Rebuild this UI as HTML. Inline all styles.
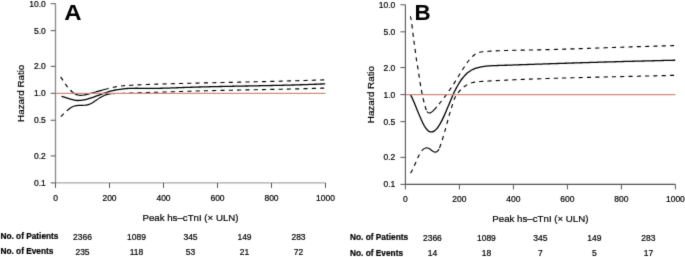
<!DOCTYPE html>
<html><head><meta charset="utf-8"><style>
html,body{margin:0;padding:0;background:#fff;}
svg{display:block;}
text{font-family:"Liberation Sans", sans-serif;fill:#000;stroke:#000;stroke-width:0.2px;}
</style></head><body>
<svg width="685" height="257" viewBox="0 0 685 257">
<defs><filter id="soft" x="0" y="0" width="685" height="257" filterUnits="userSpaceOnUse" color-interpolation-filters="sRGB"><feConvolveMatrix order="3" kernelMatrix="0.0113 0.0838 0.0113 0.0838 0.6193 0.0838 0.0113 0.0838 0.0113" edgeMode="duplicate" preserveAlpha="true"/></filter></defs>
<g filter="url(#soft)">
<rect width="685" height="257" fill="#fff"/>
<line x1="55.5" y1="3.70" x2="55.5" y2="182.90" stroke="#8a8a8a" stroke-width="1.3"/>
<line x1="55.5" y1="182.90" x2="325.5" y2="182.90" stroke="#a8a8a8" stroke-width="1.1"/>
<line x1="50.70" y1="3.70" x2="55.5" y2="3.70" stroke="#555" stroke-width="1"/>
<text x="45.8" y="6.75" text-anchor="end" font-size="8.5">10.0</text>
<line x1="50.70" y1="30.67" x2="55.5" y2="30.67" stroke="#555" stroke-width="1"/>
<text x="45.8" y="33.72" text-anchor="end" font-size="8.5">5.0</text>
<line x1="50.70" y1="66.33" x2="55.5" y2="66.33" stroke="#555" stroke-width="1"/>
<text x="45.8" y="69.38" text-anchor="end" font-size="8.5">2.0</text>
<line x1="50.70" y1="93.30" x2="55.5" y2="93.30" stroke="#555" stroke-width="1"/>
<text x="45.8" y="96.35" text-anchor="end" font-size="8.5">1.0</text>
<line x1="50.70" y1="120.27" x2="55.5" y2="120.27" stroke="#555" stroke-width="1"/>
<text x="45.8" y="123.32" text-anchor="end" font-size="8.5">0.5</text>
<line x1="50.70" y1="155.93" x2="55.5" y2="155.93" stroke="#555" stroke-width="1"/>
<text x="45.8" y="158.98" text-anchor="end" font-size="8.5">0.2</text>
<line x1="50.70" y1="182.90" x2="55.5" y2="182.90" stroke="#555" stroke-width="1"/>
<text x="45.8" y="185.95" text-anchor="end" font-size="8.5">0.1</text>
<line x1="55.50" y1="182.90" x2="55.50" y2="187.90" stroke="#555" stroke-width="1"/>
<text x="55.50" y="200.7" text-anchor="middle" font-size="8.5">0</text>
<line x1="109.50" y1="182.90" x2="109.50" y2="187.90" stroke="#555" stroke-width="1"/>
<text x="109.50" y="200.7" text-anchor="middle" font-size="8.5">200</text>
<line x1="163.50" y1="182.90" x2="163.50" y2="187.90" stroke="#555" stroke-width="1"/>
<text x="163.50" y="200.7" text-anchor="middle" font-size="8.5">400</text>
<line x1="217.50" y1="182.90" x2="217.50" y2="187.90" stroke="#555" stroke-width="1"/>
<text x="217.50" y="200.7" text-anchor="middle" font-size="8.5">600</text>
<line x1="271.50" y1="182.90" x2="271.50" y2="187.90" stroke="#555" stroke-width="1"/>
<text x="271.50" y="200.7" text-anchor="middle" font-size="8.5">800</text>
<line x1="325.50" y1="182.90" x2="325.50" y2="187.90" stroke="#555" stroke-width="1"/>
<text x="325.50" y="200.7" text-anchor="middle" font-size="8.5">1000</text>
<text x="190.50" y="221.0" text-anchor="middle" font-size="9.7">Peak hs–cTnI (× ULN)</text>
<text transform="translate(23.7,93.30) rotate(-90)" text-anchor="middle" font-size="9.8">Hazard Ratio</text>
<text transform="translate(64.25,20.3) scale(1.05,1)" font-size="22.8" font-weight="bold" style="stroke:none">A</text>
<path d="M61.50,96.47 C62.17,96.61 62.83,96.77 63.50,96.95 C64.16,97.13 64.83,97.32 65.50,97.53 C66.16,97.74 66.83,97.96 67.50,98.18 C68.16,98.40 68.83,98.62 69.49,98.83 C70.16,99.04 70.83,99.25 71.49,99.44 C72.16,99.63 72.82,99.80 73.49,99.95 C74.16,100.10 74.82,100.22 75.49,100.31 C76.16,100.40 76.82,100.46 77.49,100.48 C78.15,100.51 78.82,100.50 79.49,100.47 C80.15,100.44 80.82,100.38 81.48,100.29 C82.15,100.21 82.82,100.11 83.48,99.98 C84.15,99.86 84.82,99.71 85.48,99.55 C86.15,99.39 86.81,99.22 87.48,99.04 C88.15,98.85 88.81,98.66 89.48,98.45 C90.14,98.25 90.81,98.04 91.48,97.82 C92.14,97.60 92.81,97.37 93.48,97.14 C94.14,96.90 94.81,96.67 95.47,96.42 C96.14,96.18 96.81,95.94 97.47,95.69 C98.14,95.45 98.81,95.20 99.47,94.95 C100.14,94.70 100.80,94.46 101.47,94.21 C102.14,93.97 102.80,93.72 103.47,93.48 C104.13,93.25 104.80,93.01 105.47,92.78 C106.13,92.55 106.80,92.33 107.47,92.11 C108.13,91.90 108.80,91.69 109.46,91.49 C110.13,91.29 110.80,91.10 111.46,90.92 C112.13,90.75 112.79,90.58 113.46,90.42 C114.13,90.27 114.79,90.12 115.46,89.99 C116.13,89.86 116.79,89.73 117.46,89.62 C118.12,89.50 118.79,89.39 119.46,89.30 C120.12,89.20 120.79,89.11 121.45,89.03 C122.12,88.95 122.79,88.88 123.45,88.81 C124.12,88.75 124.79,88.69 125.45,88.64 C126.12,88.59 126.78,88.54 127.45,88.50 C128.12,88.47 128.78,88.43 129.45,88.40 C130.11,88.38 130.78,88.35 131.45,88.33 C132.11,88.32 132.78,88.30 133.45,88.29 C134.11,88.28 134.78,88.28 135.44,88.27 C136.11,88.27 136.78,88.27 137.44,88.27 C138.11,88.27 138.77,88.28 139.44,88.28 C140.11,88.29 140.77,88.29 141.44,88.30 C142.11,88.31 142.77,88.32 143.44,88.33 C144.10,88.34 144.77,88.35 145.44,88.36 C146.10,88.37 146.77,88.38 147.43,88.38 C148.10,88.39 148.77,88.40 149.43,88.40 C150.10,88.40 150.77,88.41 151.43,88.41 C152.10,88.41 152.76,88.40 153.43,88.40 C154.10,88.40 154.76,88.39 155.43,88.38 C156.09,88.38 156.76,88.37 157.43,88.36 C158.09,88.34 158.76,88.33 159.43,88.32 C160.09,88.31 160.76,88.29 161.42,88.27 C162.09,88.26 162.76,88.24 163.42,88.22 C164.09,88.20 164.76,88.18 165.42,88.16 C166.09,88.14 166.75,88.12 167.42,88.10 C168.09,88.08 168.75,88.06 169.42,88.03 C170.08,88.01 170.75,87.98 171.42,87.96 C172.08,87.94 172.75,87.91 173.42,87.89 C174.08,87.86 174.75,87.84 175.41,87.81 C176.08,87.79 176.75,87.76 177.41,87.73 C178.08,87.71 178.74,87.68 179.41,87.66 C180.08,87.63 180.74,87.61 181.41,87.58 C182.08,87.56 182.74,87.54 183.41,87.51 C184.07,87.49 184.74,87.47 185.41,87.44 C186.07,87.42 186.74,87.40 187.40,87.37 C188.07,87.35 188.74,87.33 189.40,87.31 C190.07,87.29 190.74,87.27 191.40,87.25 C192.07,87.22 192.73,87.20 193.40,87.18 C194.07,87.16 194.73,87.14 195.40,87.12 C196.06,87.10 196.73,87.08 197.40,87.07 C198.06,87.05 198.73,87.03 199.40,87.01 C200.06,86.99 200.73,86.97 201.39,86.95 C202.06,86.94 202.73,86.92 203.39,86.90 C204.06,86.88 204.72,86.87 205.39,86.85 C206.06,86.83 206.72,86.82 207.39,86.80 C208.06,86.78 208.72,86.77 209.39,86.75 C210.05,86.73 210.72,86.72 211.39,86.70 C212.05,86.69 212.72,86.67 213.38,86.66 C214.05,86.64 214.72,86.62 215.38,86.61 C216.05,86.59 216.72,86.58 217.38,86.57 C218.05,86.55 218.71,86.54 219.38,86.52 C220.05,86.51 220.71,86.49 221.38,86.48 C222.04,86.47 222.71,86.45 223.38,86.44 C224.04,86.42 224.71,86.41 225.38,86.40 C226.04,86.38 226.71,86.37 227.37,86.36 C228.04,86.34 228.71,86.33 229.37,86.32 C230.04,86.30 230.71,86.29 231.37,86.28 C232.04,86.27 232.70,86.25 233.37,86.24 C234.04,86.23 234.70,86.22 235.37,86.20 C236.03,86.19 236.70,86.18 237.37,86.17 C238.03,86.15 238.70,86.14 239.37,86.13 C240.03,86.12 240.70,86.10 241.36,86.09 C242.03,86.08 242.70,86.07 243.36,86.05 C244.03,86.04 244.69,86.03 245.36,86.02 C246.03,86.01 246.69,85.99 247.36,85.98 C248.03,85.97 248.69,85.96 249.36,85.94 C250.02,85.93 250.69,85.92 251.36,85.91 C252.02,85.89 252.69,85.88 253.35,85.87 C254.02,85.86 254.69,85.85 255.35,85.83 C256.02,85.82 256.69,85.81 257.35,85.79 C258.02,85.78 258.68,85.77 259.35,85.76 C260.02,85.74 260.68,85.73 261.35,85.72 C262.01,85.71 262.68,85.69 263.35,85.68 C264.01,85.67 264.68,85.65 265.35,85.64 C266.01,85.63 266.68,85.61 267.34,85.60 C268.01,85.58 268.68,85.57 269.34,85.56 C270.01,85.54 270.67,85.53 271.34,85.52 C272.01,85.50 272.67,85.49 273.34,85.47 C274.01,85.46 274.67,85.44 275.34,85.43 C276.00,85.41 276.67,85.40 277.34,85.38 C278.00,85.37 278.67,85.35 279.33,85.34 C280.00,85.32 280.67,85.31 281.33,85.29 C282.00,85.27 282.67,85.26 283.33,85.24 C284.00,85.22 284.66,85.21 285.33,85.19 C286.00,85.17 286.66,85.16 287.33,85.14 C287.99,85.12 288.66,85.10 289.33,85.09 C289.99,85.07 290.66,85.05 291.33,85.03 C291.99,85.01 292.66,85.00 293.32,84.98 C293.99,84.96 294.66,84.94 295.32,84.92 C295.99,84.90 296.66,84.88 297.32,84.86 C297.99,84.84 298.65,84.82 299.32,84.80 C299.99,84.78 300.65,84.76 301.32,84.74 C301.98,84.71 302.65,84.69 303.32,84.67 C303.98,84.65 304.65,84.63 305.32,84.60 C305.98,84.58 306.65,84.56 307.31,84.53 C307.98,84.51 308.65,84.49 309.31,84.46 C309.98,84.44 310.64,84.41 311.31,84.39 C311.98,84.36 312.64,84.34 313.31,84.31 C313.98,84.29 314.64,84.26 315.31,84.23 C315.97,84.21 316.64,84.18 317.31,84.15 C317.97,84.13 318.64,84.10 319.30,84.07 C319.97,84.04 320.64,84.01 321.30,83.98 C321.97,83.96 322.64,83.93 323.30,83.90 C323.97,83.87 324.63,83.84 325.30,83.80" fill="none" stroke="#000" stroke-width="1.3" stroke-linejoin="round"/>
<path d="M60.70,76.84 C61.34,77.88 61.99,78.91 62.63,79.91 C63.28,80.91 63.92,81.89 64.57,82.84 C65.21,83.78 65.86,84.69 66.50,85.56 C67.14,86.43 67.79,87.25 68.43,88.02 C69.08,88.79 69.72,89.51 70.37,90.16 C71.01,90.82 71.66,91.42 72.30,91.95" fill="none" stroke="#000" stroke-width="1.15" stroke-dasharray="4.1 4.2" stroke-dashoffset="0"/>
<path d="M72.30,91.95 C72.95,92.49 73.60,92.97 74.26,93.39 C74.91,93.80 75.56,94.15 76.21,94.42 C76.86,94.70 77.51,94.91 78.17,95.05 C78.82,95.20 79.47,95.28 80.12,95.32 C80.77,95.36 81.43,95.34 82.08,95.29 C82.73,95.24 83.38,95.15 84.03,95.04 C84.69,94.93 85.34,94.79 85.99,94.63 C86.64,94.48 87.29,94.31 87.94,94.13 C88.60,93.96 89.25,93.78 89.90,93.60 C90.55,93.42 91.20,93.24 91.86,93.05 C92.51,92.87 93.16,92.68 93.81,92.50 C94.46,92.31 95.11,92.13 95.77,91.95 C96.42,91.76 97.07,91.58 97.72,91.40 C98.37,91.22 99.03,91.05 99.68,90.87 C100.33,90.69 100.98,90.51 101.63,90.33 C102.29,90.16 102.94,89.98 103.59,89.79 C104.24,89.61 104.89,89.43 105.54,89.25 C106.20,89.06 106.85,88.88 107.50,88.70" fill="none" stroke="#000" stroke-width="1.15" stroke-linejoin="round"/>
<path d="M107.50,88.70 C108.17,88.52 108.83,88.34 109.50,88.17 C110.16,87.99 110.83,87.83 111.50,87.67 C112.16,87.52 112.83,87.37 113.49,87.23 C114.16,87.10 114.83,86.97 115.49,86.85 C116.16,86.73 116.82,86.62 117.49,86.52 C118.16,86.41 118.82,86.32 119.49,86.23 C120.16,86.14 120.82,86.06 121.49,85.98 C122.15,85.91 122.82,85.84 123.49,85.77 C124.15,85.71 124.82,85.65 125.48,85.60 C126.15,85.54 126.82,85.49 127.48,85.44 C128.15,85.40 128.81,85.35 129.48,85.31 C130.15,85.27 130.81,85.23 131.48,85.20 C132.14,85.16 132.81,85.13 133.48,85.09 C134.14,85.06 134.81,85.03 135.47,85.00 C136.14,84.96 136.81,84.93 137.47,84.90 C138.14,84.87 138.80,84.84 139.47,84.81 C140.14,84.78 140.80,84.76 141.47,84.73 C142.13,84.70 142.80,84.67 143.47,84.64 C144.13,84.62 144.80,84.59 145.47,84.57 C146.13,84.54 146.80,84.51 147.46,84.49 C148.13,84.46 148.80,84.44 149.46,84.41 C150.13,84.39 150.79,84.37 151.46,84.34 C152.13,84.32 152.79,84.30 153.46,84.27 C154.12,84.25 154.79,84.23 155.46,84.21 C156.12,84.19 156.79,84.16 157.45,84.14 C158.12,84.12 158.79,84.10 159.45,84.08 C160.12,84.06 160.78,84.04 161.45,84.02 C162.12,84.00 162.78,83.98 163.45,83.96 C164.11,83.94 164.78,83.92 165.45,83.90 C166.11,83.88 166.78,83.86 167.44,83.85 C168.11,83.83 168.78,83.81 169.44,83.79 C170.11,83.77 170.78,83.75 171.44,83.74 C172.11,83.72 172.77,83.70 173.44,83.68 C174.11,83.67 174.77,83.65 175.44,83.63 C176.10,83.61 176.77,83.60 177.44,83.58 C178.10,83.56 178.77,83.54 179.43,83.53 C180.10,83.51 180.77,83.49 181.43,83.48 C182.10,83.46 182.76,83.44 183.43,83.43 C184.10,83.41 184.76,83.39 185.43,83.38 C186.09,83.36 186.76,83.34 187.43,83.33 C188.09,83.31 188.76,83.29 189.42,83.28 C190.09,83.26 190.76,83.25 191.42,83.23 C192.09,83.21 192.76,83.20 193.42,83.18 C194.09,83.17 194.75,83.15 195.42,83.13 C196.09,83.12 196.75,83.10 197.42,83.09 C198.08,83.07 198.75,83.06 199.42,83.04 C200.08,83.03 200.75,83.01 201.41,83.00 C202.08,82.98 202.75,82.96 203.41,82.95 C204.08,82.93 204.74,82.92 205.41,82.90 C206.08,82.89 206.74,82.87 207.41,82.86 C208.07,82.84 208.74,82.83 209.41,82.81 C210.07,82.80 210.74,82.78 211.40,82.77 C212.07,82.75 212.74,82.74 213.40,82.72 C214.07,82.71 214.73,82.69 215.40,82.68 C216.07,82.66 216.73,82.65 217.40,82.64 C218.07,82.62 218.73,82.61 219.40,82.59 C220.06,82.58 220.73,82.56 221.40,82.55 C222.06,82.53 222.73,82.52 223.39,82.50 C224.06,82.49 224.73,82.47 225.39,82.46 C226.06,82.44 226.72,82.43 227.39,82.42 C228.06,82.40 228.72,82.39 229.39,82.37 C230.05,82.36 230.72,82.34 231.39,82.33 C232.05,82.31 232.72,82.30 233.38,82.28 C234.05,82.27 234.72,82.25 235.38,82.24 C236.05,82.22 236.71,82.21 237.38,82.20 C238.05,82.18 238.71,82.17 239.38,82.15 C240.04,82.14 240.71,82.12 241.38,82.11 C242.04,82.09 242.71,82.08 243.38,82.06 C244.04,82.05 244.71,82.03 245.37,82.02 C246.04,82.00 246.71,81.99 247.37,81.97 C248.04,81.96 248.70,81.94 249.37,81.93 C250.04,81.91 250.70,81.90 251.37,81.88 C252.03,81.87 252.70,81.85 253.37,81.84 C254.03,81.82 254.70,81.81 255.36,81.79 C256.03,81.78 256.70,81.76 257.36,81.75 C258.03,81.73 258.69,81.71 259.36,81.70 C260.03,81.68 260.69,81.67 261.36,81.65 C262.02,81.64 262.69,81.62 263.36,81.60 C264.02,81.59 264.69,81.57 265.36,81.56 C266.02,81.54 266.69,81.52 267.35,81.51 C268.02,81.49 268.69,81.48 269.35,81.46 C270.02,81.44 270.68,81.43 271.35,81.41 C272.02,81.39 272.68,81.38 273.35,81.36 C274.01,81.34 274.68,81.33 275.35,81.31 C276.01,81.29 276.68,81.28 277.34,81.26 C278.01,81.24 278.68,81.23 279.34,81.21 C280.01,81.19 280.67,81.17 281.34,81.16 C282.01,81.14 282.67,81.12 283.34,81.10 C284.00,81.09 284.67,81.07 285.34,81.05 C286.00,81.03 286.67,81.01 287.33,81.00 C288.00,80.98 288.67,80.96 289.33,80.94 C290.00,80.92 290.67,80.90 291.33,80.89 C292.00,80.87 292.66,80.85 293.33,80.83 C294.00,80.81 294.66,80.79 295.33,80.77 C295.99,80.75 296.66,80.73 297.33,80.71 C297.99,80.69 298.66,80.68 299.32,80.66 C299.99,80.64 300.66,80.62 301.32,80.60 C301.99,80.58 302.65,80.56 303.32,80.54 C303.99,80.51 304.65,80.49 305.32,80.47 C305.98,80.45 306.65,80.43 307.32,80.41 C307.98,80.39 308.65,80.37 309.31,80.35 C309.98,80.33 310.65,80.31 311.31,80.28 C311.98,80.26 312.64,80.24 313.31,80.22 C313.98,80.20 314.64,80.17 315.31,80.15 C315.98,80.13 316.64,80.11 317.31,80.08 C317.97,80.06 318.64,80.04 319.31,80.02 C319.97,79.99 320.64,79.97 321.30,79.95 C321.97,79.92 322.64,79.90 323.30,79.88 C323.97,79.85 324.63,79.83 325.30,79.80" fill="none" stroke="#000" stroke-width="1.15" stroke-dasharray="4.1 4.2" stroke-dashoffset="2.846"/>
<path d="M60.80,116.62 C61.47,115.98 62.13,115.33 62.80,114.67 C63.47,114.01 64.13,113.36 64.80,112.71 C65.47,112.07 66.13,111.44 66.80,110.85" fill="none" stroke="#000" stroke-width="1.15" stroke-dasharray="4.1 4.2" stroke-dashoffset="0"/>
<path d="M66.80,110.85 C67.45,110.26 68.10,109.71 68.74,109.20 C69.39,108.69 70.04,108.23 70.69,107.82 C71.33,107.41 71.98,107.06 72.63,106.77 C73.28,106.48 73.93,106.24 74.57,106.05 C75.22,105.86 75.87,105.72 76.52,105.61 C77.17,105.50 77.81,105.43 78.46,105.39 C79.11,105.34 79.76,105.32 80.40,105.32 C81.05,105.31 81.70,105.32 82.35,105.33 C83.00,105.33 83.64,105.33 84.29,105.29 C84.94,105.25 85.59,105.19 86.23,105.07 C86.88,104.96 87.53,104.81 88.18,104.62 C88.83,104.42 89.47,104.19 90.12,103.91 C90.77,103.63 91.42,103.30 92.07,102.94 C92.71,102.57 93.36,102.16 94.01,101.74 C94.66,101.32 95.30,100.87 95.95,100.43 C96.60,99.99 97.25,99.54 97.90,99.11 C98.54,98.67 99.19,98.24 99.84,97.83 C100.49,97.42 101.13,97.03 101.78,96.66 C102.43,96.30 103.08,95.97 103.73,95.67 C104.37,95.38 105.02,95.13 105.67,94.91 C106.32,94.69 106.97,94.51 107.61,94.35 C108.26,94.20 108.91,94.07 109.56,93.97 C110.20,93.87 110.85,93.79 111.50,93.74" fill="none" stroke="#000" stroke-width="1.15" stroke-linejoin="round"/>
<path d="M111.50,93.74 C112.17,93.67 112.83,93.63 113.50,93.60 C114.16,93.57 114.83,93.56 115.50,93.55 C116.16,93.54 116.83,93.54 117.49,93.54 C118.16,93.53 118.83,93.53 119.49,93.53 C120.16,93.52 120.82,93.51 121.49,93.49 C122.16,93.48 122.82,93.46 123.49,93.44 C124.15,93.41 124.82,93.39 125.49,93.36 C126.15,93.33 126.82,93.30 127.49,93.27 C128.15,93.24 128.82,93.20 129.48,93.17 C130.15,93.14 130.82,93.10 131.48,93.07 C132.15,93.03 132.81,93.00 133.48,92.97 C134.15,92.94 134.81,92.90 135.48,92.87 C136.14,92.85 136.81,92.82 137.48,92.79 C138.14,92.77 138.81,92.74 139.47,92.72 C140.14,92.69 140.81,92.67 141.47,92.65 C142.14,92.63 142.80,92.61 143.47,92.59 C144.14,92.57 144.80,92.55 145.47,92.53 C146.13,92.52 146.80,92.50 147.47,92.48 C148.13,92.46 148.80,92.45 149.46,92.43 C150.13,92.42 150.80,92.40 151.46,92.38 C152.13,92.37 152.79,92.35 153.46,92.33 C154.13,92.32 154.79,92.30 155.46,92.28 C156.12,92.27 156.79,92.25 157.46,92.23 C158.12,92.21 158.79,92.19 159.46,92.17 C160.12,92.15 160.79,92.13 161.45,92.11 C162.12,92.09 162.79,92.07 163.45,92.05 C164.12,92.03 164.78,92.00 165.45,91.98 C166.12,91.96 166.78,91.94 167.45,91.91 C168.11,91.89 168.78,91.87 169.45,91.84 C170.11,91.82 170.78,91.80 171.44,91.78 C172.11,91.75 172.78,91.73 173.44,91.71 C174.11,91.69 174.77,91.66 175.44,91.64 C176.11,91.62 176.77,91.60 177.44,91.58 C178.10,91.55 178.77,91.53 179.44,91.51 C180.10,91.49 180.77,91.47 181.43,91.45 C182.10,91.43 182.77,91.41 183.43,91.39 C184.10,91.37 184.76,91.35 185.43,91.33 C186.10,91.31 186.76,91.29 187.43,91.27 C188.10,91.25 188.76,91.23 189.43,91.21 C190.09,91.19 190.76,91.17 191.43,91.15 C192.09,91.14 192.76,91.12 193.42,91.10 C194.09,91.08 194.76,91.06 195.42,91.05 C196.09,91.03 196.75,91.01 197.42,90.99 C198.09,90.97 198.75,90.96 199.42,90.94 C200.08,90.92 200.75,90.91 201.42,90.89 C202.08,90.87 202.75,90.85 203.41,90.84 C204.08,90.82 204.75,90.81 205.41,90.79 C206.08,90.77 206.74,90.76 207.41,90.74 C208.08,90.72 208.74,90.71 209.41,90.69 C210.07,90.68 210.74,90.66 211.41,90.65 C212.07,90.63 212.74,90.61 213.40,90.60 C214.07,90.58 214.74,90.57 215.40,90.55 C216.07,90.54 216.73,90.52 217.40,90.51 C218.07,90.49 218.73,90.48 219.40,90.47 C220.07,90.45 220.73,90.44 221.40,90.42 C222.06,90.41 222.73,90.39 223.40,90.38 C224.06,90.36 224.73,90.35 225.39,90.34 C226.06,90.32 226.73,90.31 227.39,90.29 C228.06,90.28 228.72,90.27 229.39,90.25 C230.06,90.24 230.72,90.23 231.39,90.21 C232.05,90.20 232.72,90.18 233.39,90.17 C234.05,90.16 234.72,90.14 235.38,90.13 C236.05,90.12 236.72,90.10 237.38,90.09 C238.05,90.08 238.71,90.06 239.38,90.05 C240.05,90.04 240.71,90.02 241.38,90.01 C242.04,90.00 242.71,89.99 243.38,89.97 C244.04,89.96 244.71,89.95 245.37,89.93 C246.04,89.92 246.71,89.91 247.37,89.89 C248.04,89.88 248.70,89.87 249.37,89.85 C250.04,89.84 250.70,89.83 251.37,89.82 C252.04,89.80 252.70,89.79 253.37,89.78 C254.03,89.76 254.70,89.75 255.37,89.74 C256.03,89.72 256.70,89.71 257.36,89.70 C258.03,89.69 258.70,89.67 259.36,89.66 C260.03,89.65 260.69,89.63 261.36,89.62 C262.03,89.61 262.69,89.59 263.36,89.58 C264.02,89.57 264.69,89.55 265.36,89.54 C266.02,89.53 266.69,89.51 267.35,89.50 C268.02,89.49 268.69,89.47 269.35,89.46 C270.02,89.45 270.68,89.43 271.35,89.42 C272.02,89.41 272.68,89.39 273.35,89.38 C274.01,89.37 274.68,89.35 275.35,89.34 C276.01,89.32 276.68,89.31 277.34,89.30 C278.01,89.28 278.68,89.27 279.34,89.25 C280.01,89.24 280.68,89.23 281.34,89.21 C282.01,89.20 282.67,89.18 283.34,89.17 C284.01,89.15 284.67,89.14 285.34,89.12 C286.00,89.11 286.67,89.09 287.34,89.08 C288.00,89.06 288.67,89.05 289.33,89.03 C290.00,89.02 290.67,89.00 291.33,88.99 C292.00,88.97 292.66,88.96 293.33,88.94 C294.00,88.93 294.66,88.91 295.33,88.89 C295.99,88.88 296.66,88.86 297.33,88.85 C297.99,88.83 298.66,88.81 299.32,88.80 C299.99,88.78 300.66,88.76 301.32,88.75 C301.99,88.73 302.65,88.71 303.32,88.69 C303.99,88.68 304.65,88.66 305.32,88.64 C305.98,88.63 306.65,88.61 307.32,88.59 C307.98,88.57 308.65,88.55 309.31,88.54 C309.98,88.52 310.65,88.50 311.31,88.48 C311.98,88.46 312.65,88.44 313.31,88.42 C313.98,88.41 314.64,88.39 315.31,88.37 C315.98,88.35 316.64,88.33 317.31,88.31 C317.97,88.29 318.64,88.27 319.31,88.25 C319.97,88.23 320.64,88.21 321.30,88.19 C321.97,88.17 322.64,88.15 323.30,88.13 C323.97,88.10 324.63,88.08 325.30,88.06" fill="none" stroke="#000" stroke-width="1.15" stroke-dasharray="4.1 4.2" stroke-dashoffset="7.143"/>
<line x1="56.0" y1="93.3" x2="325.5" y2="93.3" stroke="#d08b7c" stroke-width="1.2"/>
<text x="0.4" y="239.2" font-size="8.3" font-weight="bold">No. of Patients</text>
<text x="0.4" y="254.4" font-size="8.3" font-weight="bold">No. of Events</text>
<text x="82.50" y="240.0" text-anchor="middle" font-size="8.5">2366</text>
<text x="82.50" y="254.9" text-anchor="middle" font-size="8.5">235</text>
<text x="136.50" y="240.0" text-anchor="middle" font-size="8.5">1089</text>
<text x="136.50" y="254.9" text-anchor="middle" font-size="8.5">118</text>
<text x="190.50" y="240.0" text-anchor="middle" font-size="8.5">345</text>
<text x="190.50" y="254.9" text-anchor="middle" font-size="8.5">53</text>
<text x="244.50" y="240.0" text-anchor="middle" font-size="8.5">149</text>
<text x="244.50" y="254.9" text-anchor="middle" font-size="8.5">21</text>
<text x="298.50" y="240.0" text-anchor="middle" font-size="8.5">283</text>
<text x="298.50" y="254.9" text-anchor="middle" font-size="8.5">72</text>
<line x1="405.4" y1="4.80" x2="405.4" y2="184.40" stroke="#555" stroke-width="1.1"/>
<line x1="405.4" y1="184.40" x2="675.4" y2="184.40" stroke="#555" stroke-width="1.1"/>
<line x1="400.40" y1="4.80" x2="405.4" y2="4.80" stroke="#555" stroke-width="1"/>
<text x="395.3" y="7.85" text-anchor="end" font-size="8.5">10.0</text>
<line x1="400.40" y1="31.83" x2="405.4" y2="31.83" stroke="#555" stroke-width="1"/>
<text x="395.3" y="34.88" text-anchor="end" font-size="8.5">5.0</text>
<line x1="400.40" y1="67.57" x2="405.4" y2="67.57" stroke="#555" stroke-width="1"/>
<text x="395.3" y="70.62" text-anchor="end" font-size="8.5">2.0</text>
<line x1="400.40" y1="94.60" x2="405.4" y2="94.60" stroke="#555" stroke-width="1"/>
<text x="395.3" y="97.65" text-anchor="end" font-size="8.5">1.0</text>
<line x1="400.40" y1="121.63" x2="405.4" y2="121.63" stroke="#555" stroke-width="1"/>
<text x="395.3" y="124.68" text-anchor="end" font-size="8.5">0.5</text>
<line x1="400.40" y1="157.37" x2="405.4" y2="157.37" stroke="#555" stroke-width="1"/>
<text x="395.3" y="160.42" text-anchor="end" font-size="8.5">0.2</text>
<line x1="400.40" y1="184.40" x2="405.4" y2="184.40" stroke="#555" stroke-width="1"/>
<text x="395.3" y="187.45" text-anchor="end" font-size="8.5">0.1</text>
<line x1="405.40" y1="184.40" x2="405.40" y2="189.40" stroke="#555" stroke-width="1"/>
<text x="405.40" y="202.1" text-anchor="middle" font-size="8.5">0</text>
<line x1="459.40" y1="184.40" x2="459.40" y2="189.40" stroke="#555" stroke-width="1"/>
<text x="459.40" y="202.1" text-anchor="middle" font-size="8.5">200</text>
<line x1="513.40" y1="184.40" x2="513.40" y2="189.40" stroke="#555" stroke-width="1"/>
<text x="513.40" y="202.1" text-anchor="middle" font-size="8.5">400</text>
<line x1="567.40" y1="184.40" x2="567.40" y2="189.40" stroke="#555" stroke-width="1"/>
<text x="567.40" y="202.1" text-anchor="middle" font-size="8.5">600</text>
<line x1="621.40" y1="184.40" x2="621.40" y2="189.40" stroke="#555" stroke-width="1"/>
<text x="621.40" y="202.1" text-anchor="middle" font-size="8.5">800</text>
<line x1="675.40" y1="184.40" x2="675.40" y2="189.40" stroke="#555" stroke-width="1"/>
<text x="675.40" y="202.1" text-anchor="middle" font-size="8.5">1000</text>
<text x="540.40" y="222.4" text-anchor="middle" font-size="9.7">Peak hs–cTnI (× ULN)</text>
<text transform="translate(373.7,94.60) rotate(-90)" text-anchor="middle" font-size="9.8">Hazard Ratio</text>
<text transform="translate(414.55,20.3) scale(0.98,1)" font-size="22.8" font-weight="bold" style="stroke:none">B</text>
<path d="M410.50,94.63 C411.16,95.91 411.83,97.30 412.49,98.76 C413.15,100.23 413.82,101.77 414.48,103.36 C415.14,104.95 415.81,106.58 416.47,108.22 C417.13,109.86 417.80,111.50 418.46,113.12 C419.12,114.74 419.79,116.33 420.45,117.86 C421.11,119.39 421.78,120.85 422.44,122.22 C423.10,123.59 423.77,124.86 424.43,125.99 C425.09,127.13 425.76,128.13 426.42,128.97 C427.09,129.80 427.75,130.46 428.41,130.94 C429.08,131.42 429.74,131.72 430.40,131.86 C431.07,132.00 431.73,131.98 432.39,131.81 C433.06,131.64 433.72,131.32 434.38,130.86 C435.05,130.41 435.71,129.81 436.37,129.09 C437.04,128.37 437.70,127.53 438.36,126.57 C439.03,125.61 439.69,124.54 440.35,123.38 C441.02,122.21 441.68,120.94 442.34,119.60 C443.01,118.25 443.67,116.83 444.33,115.36 C445.00,113.88 445.66,112.35 446.32,110.78 C446.99,109.22 447.65,107.61 448.31,106.01 C448.98,104.40 449.64,102.78 450.30,101.19 C450.97,99.59 451.63,98.02 452.29,96.49 C452.96,94.96 453.62,93.48 454.28,92.08 C454.95,90.67 455.61,89.34 456.28,88.08 C456.94,86.82 457.60,85.63 458.27,84.50 C458.93,83.37 459.59,82.31 460.26,81.32 C460.92,80.32 461.58,79.39 462.25,78.52 C462.91,77.65 463.57,76.84 464.24,76.09 C464.90,75.35 465.56,74.66 466.23,74.04 C466.89,73.41 467.55,72.85 468.22,72.33 C468.88,71.81 469.54,71.35 470.21,70.93 C470.87,70.51 471.53,70.13 472.20,69.79 C472.86,69.45 473.52,69.15 474.19,68.88 C474.85,68.61 475.51,68.36 476.18,68.14 C476.84,67.92 477.50,67.72 478.17,67.54 C478.83,67.36 479.49,67.20 480.16,67.05 C480.82,66.91 481.48,66.78 482.15,66.66 C482.81,66.55 483.47,66.45 484.14,66.36 C484.80,66.27 485.47,66.19 486.13,66.12 C486.79,66.05 487.46,66.00 488.12,65.95 C488.78,65.90 489.45,65.85 490.11,65.82 C490.77,65.78 491.44,65.75 492.10,65.72 C492.76,65.69 493.43,65.67 494.09,65.65 C494.75,65.62 495.42,65.60 496.08,65.58 C496.74,65.55 497.41,65.53 498.07,65.51 C498.73,65.49 499.40,65.46 500.06,65.44 C500.72,65.42 501.39,65.39 502.05,65.37 C502.71,65.35 503.38,65.33 504.04,65.30 C504.70,65.28 505.37,65.26 506.03,65.24 C506.69,65.21 507.36,65.19 508.02,65.17 C508.68,65.15 509.35,65.12 510.01,65.10 C510.67,65.08 511.34,65.05 512.00,65.03 C512.66,65.01 513.33,64.99 513.99,64.96 C514.66,64.94 515.32,64.92 515.98,64.90 C516.65,64.87 517.31,64.85 517.97,64.83 C518.64,64.81 519.30,64.78 519.96,64.76 C520.63,64.74 521.29,64.72 521.95,64.69 C522.62,64.67 523.28,64.65 523.94,64.63 C524.61,64.60 525.27,64.58 525.93,64.56 C526.60,64.54 527.26,64.51 527.92,64.49 C528.59,64.47 529.25,64.45 529.91,64.42 C530.58,64.40 531.24,64.38 531.90,64.36 C532.57,64.34 533.23,64.31 533.89,64.29 C534.56,64.27 535.22,64.25 535.88,64.22 C536.55,64.20 537.21,64.18 537.87,64.16 C538.54,64.14 539.20,64.11 539.86,64.09 C540.53,64.07 541.19,64.05 541.85,64.03 C542.52,64.00 543.18,63.98 543.85,63.96 C544.51,63.94 545.17,63.92 545.84,63.89 C546.50,63.87 547.16,63.85 547.83,63.83 C548.49,63.81 549.15,63.78 549.82,63.76 C550.48,63.74 551.14,63.72 551.81,63.70 C552.47,63.67 553.13,63.65 553.80,63.63 C554.46,63.61 555.12,63.59 555.79,63.57 C556.45,63.54 557.11,63.52 557.78,63.50 C558.44,63.48 559.10,63.46 559.77,63.44 C560.43,63.42 561.09,63.39 561.76,63.37 C562.42,63.35 563.08,63.33 563.75,63.31 C564.41,63.29 565.07,63.27 565.74,63.24 C566.40,63.22 567.06,63.20 567.73,63.18 C568.39,63.16 569.05,63.14 569.72,63.12 C570.38,63.10 571.04,63.07 571.71,63.05 C572.37,63.03 573.04,63.01 573.70,62.99 C574.36,62.97 575.03,62.95 575.69,62.93 C576.35,62.91 577.02,62.89 577.68,62.86 C578.34,62.84 579.01,62.82 579.67,62.80 C580.33,62.78 581.00,62.76 581.66,62.74 C582.32,62.72 582.99,62.70 583.65,62.68 C584.31,62.66 584.98,62.64 585.64,62.62 C586.30,62.60 586.97,62.58 587.63,62.56 C588.29,62.54 588.96,62.52 589.62,62.49 C590.28,62.47 590.95,62.45 591.61,62.43 C592.27,62.41 592.94,62.39 593.60,62.37 C594.26,62.35 594.93,62.33 595.59,62.31 C596.25,62.29 596.92,62.27 597.58,62.25 C598.24,62.23 598.91,62.21 599.57,62.19 C600.23,62.17 600.90,62.16 601.56,62.14 C602.23,62.12 602.89,62.10 603.55,62.08 C604.22,62.06 604.88,62.04 605.54,62.02 C606.21,62.00 606.87,61.98 607.53,61.96 C608.20,61.94 608.86,61.92 609.52,61.90 C610.19,61.88 610.85,61.86 611.51,61.85 C612.18,61.83 612.84,61.81 613.50,61.79 C614.17,61.77 614.83,61.75 615.49,61.73 C616.16,61.71 616.82,61.69 617.48,61.67 C618.15,61.66 618.81,61.64 619.47,61.62 C620.14,61.60 620.80,61.58 621.46,61.56 C622.13,61.54 622.79,61.53 623.45,61.51 C624.12,61.49 624.78,61.47 625.44,61.45 C626.11,61.44 626.77,61.42 627.43,61.40 C628.10,61.38 628.76,61.36 629.42,61.34 C630.09,61.33 630.75,61.31 631.42,61.29 C632.08,61.27 632.74,61.26 633.41,61.24 C634.07,61.22 634.73,61.20 635.40,61.19 C636.06,61.17 636.72,61.15 637.39,61.13 C638.05,61.12 638.71,61.10 639.38,61.08 C640.04,61.06 640.70,61.05 641.37,61.03 C642.03,61.01 642.69,61.00 643.36,60.98 C644.02,60.96 644.68,60.94 645.35,60.93 C646.01,60.91 646.67,60.89 647.34,60.88 C648.00,60.86 648.66,60.84 649.33,60.83 C649.99,60.81 650.65,60.80 651.32,60.78 C651.98,60.76 652.64,60.75 653.31,60.73 C653.97,60.71 654.63,60.70 655.30,60.68 C655.96,60.67 656.62,60.65 657.29,60.63 C657.95,60.62 658.61,60.60 659.28,60.59 C659.94,60.57 660.61,60.56 661.27,60.54 C661.93,60.52 662.60,60.51 663.26,60.49 C663.92,60.48 664.59,60.46 665.25,60.45 C665.91,60.43 666.58,60.42 667.24,60.40 C667.90,60.39 668.57,60.37 669.23,60.36 C669.89,60.34 670.56,60.33 671.22,60.31 C671.88,60.30 672.55,60.28 673.21,60.27 C673.87,60.26 674.54,60.24 675.20,60.23" fill="none" stroke="#000" stroke-width="1.3" stroke-linejoin="round"/>
<path d="M410.20,16.19 C410.82,16.52 411.44,21.04 412.07,26.24 C412.69,31.43 413.31,36.65 413.93,41.12 C414.56,45.60 415.18,50.19 415.80,54.98 C416.42,59.78 417.04,63.02 417.67,66.57 C418.29,70.12 418.91,74.99 419.53,79.05 C420.16,83.12 420.78,86.79 421.40,90.13 C422.02,93.47 422.64,96.47 423.27,99.18 C423.89,101.90 424.51,104.36 425.13,106.48 C425.76,108.61 426.38,110.35 427.00,111.44" fill="none" stroke="#000" stroke-width="1.15" stroke-dasharray="4.1 4.2" stroke-dashoffset="0"/>
<path d="M427.00,111.44 C427.65,112.58 428.31,112.97 428.96,113.03 C429.61,113.10 430.27,112.90 430.92,112.57 C431.57,112.25 432.23,111.76 432.88,111.18 C433.53,110.59 434.19,109.90 434.84,109.16 C435.49,108.42 436.15,107.63 436.80,106.85" fill="none" stroke="#000" stroke-width="1.15" stroke-linejoin="round"/>
<path d="M436.80,106.85 C437.46,106.05 438.12,105.24 438.79,104.42 C439.45,103.61 440.11,102.78 440.77,101.95 C441.44,101.12 442.10,100.27 442.76,99.41 C443.42,98.56 444.08,97.69 444.75,96.80 C445.41,95.92 446.07,95.02 446.73,94.10 C447.40,93.19 448.06,92.26 448.72,91.31 C449.38,90.37 450.04,89.40 450.71,88.43 C451.37,87.45 452.03,86.46 452.69,85.45 C453.36,84.44 454.02,83.41 454.68,82.37 C455.34,81.33 456.00,80.27 456.67,79.20 C457.33,78.13 457.99,77.04 458.65,75.96 C459.32,74.87 459.98,73.78 460.64,72.69 C461.30,71.61 461.96,70.53 462.63,69.48 C463.29,68.42 463.95,67.38 464.61,66.38 C465.28,65.37 465.94,64.39 466.60,63.45 C467.26,62.51 467.92,61.61 468.59,60.76 C469.25,59.92 469.91,59.12 470.57,58.38 C471.24,57.65 471.90,56.97 472.56,56.36 C473.22,55.75 473.88,55.20 474.55,54.72 C475.21,54.23 475.87,53.81 476.53,53.45 C477.20,53.09 477.86,52.79 478.52,52.56 C479.18,52.33 479.84,52.16 480.51,52.04 C481.17,51.91 481.83,51.83 482.49,51.76 C483.16,51.69 483.82,51.64 484.48,51.58 C485.14,51.53 485.80,51.47 486.47,51.42 C487.13,51.37 487.79,51.32 488.45,51.28 C489.12,51.23 489.78,51.19 490.44,51.14 C491.10,51.10 491.76,51.06 492.43,51.02 C493.09,50.98 493.75,50.95 494.41,50.91 C495.08,50.88 495.74,50.85 496.40,50.81 C497.06,50.78 497.72,50.75 498.39,50.73 C499.05,50.70 499.71,50.67 500.37,50.65 C501.04,50.62 501.70,50.60 502.36,50.57 C503.02,50.55 503.68,50.53 504.35,50.51 C505.01,50.49 505.67,50.47 506.33,50.45 C507.00,50.44 507.66,50.42 508.32,50.40 C508.98,50.39 509.64,50.37 510.31,50.36 C510.97,50.34 511.63,50.33 512.29,50.32 C512.96,50.30 513.62,50.29 514.28,50.28 C514.94,50.27 515.60,50.26 516.27,50.24 C516.93,50.23 517.59,50.22 518.25,50.21 C518.92,50.20 519.58,50.19 520.24,50.18 C520.90,50.17 521.56,50.16 522.23,50.15 C522.89,50.14 523.55,50.13 524.21,50.12 C524.88,50.11 525.54,50.10 526.20,50.09 C526.86,50.08 527.52,50.07 528.19,50.06 C528.85,50.05 529.51,50.03 530.17,50.02 C530.84,50.01 531.50,50.00 532.16,49.98 C532.82,49.97 533.48,49.96 534.15,49.95 C534.81,49.93 535.47,49.92 536.13,49.90 C536.80,49.89 537.46,49.87 538.12,49.86 C538.78,49.84 539.44,49.83 540.11,49.81 C540.77,49.80 541.43,49.78 542.09,49.77 C542.76,49.75 543.42,49.73 544.08,49.72 C544.74,49.70 545.40,49.68 546.07,49.67 C546.73,49.65 547.39,49.63 548.05,49.61 C548.72,49.60 549.38,49.58 550.04,49.56 C550.70,49.54 551.36,49.52 552.03,49.50 C552.69,49.48 553.35,49.47 554.01,49.45 C554.68,49.43 555.34,49.41 556.00,49.39 C556.66,49.37 557.32,49.35 557.99,49.33 C558.65,49.31 559.31,49.29 559.97,49.27 C560.64,49.25 561.30,49.23 561.96,49.21 C562.62,49.19 563.28,49.17 563.95,49.14 C564.61,49.12 565.27,49.10 565.93,49.08 C566.60,49.06 567.26,49.04 567.92,49.02 C568.58,49.00 569.24,48.97 569.91,48.95 C570.57,48.93 571.23,48.91 571.89,48.89 C572.56,48.87 573.22,48.84 573.88,48.82 C574.54,48.80 575.20,48.78 575.87,48.76 C576.53,48.73 577.19,48.71 577.85,48.69 C578.52,48.67 579.18,48.65 579.84,48.62 C580.50,48.60 581.16,48.58 581.83,48.56 C582.49,48.53 583.15,48.51 583.81,48.49 C584.48,48.47 585.14,48.44 585.80,48.42 C586.46,48.40 587.12,48.38 587.79,48.35 C588.45,48.33 589.11,48.31 589.77,48.29 C590.44,48.26 591.10,48.24 591.76,48.22 C592.42,48.20 593.08,48.17 593.75,48.15 C594.41,48.13 595.07,48.11 595.73,48.08 C596.40,48.06 597.06,48.04 597.72,48.02 C598.38,47.99 599.04,47.97 599.71,47.95 C600.37,47.93 601.03,47.90 601.69,47.88 C602.36,47.86 603.02,47.84 603.68,47.81 C604.34,47.79 605.00,47.77 605.67,47.75 C606.33,47.72 606.99,47.70 607.65,47.68 C608.32,47.66 608.98,47.63 609.64,47.61 C610.30,47.59 610.96,47.57 611.63,47.54 C612.29,47.52 612.95,47.50 613.61,47.48 C614.28,47.45 614.94,47.43 615.60,47.41 C616.26,47.39 616.92,47.36 617.59,47.34 C618.25,47.32 618.91,47.30 619.57,47.28 C620.24,47.25 620.90,47.23 621.56,47.21 C622.22,47.19 622.88,47.17 623.55,47.14 C624.21,47.12 624.87,47.10 625.53,47.08 C626.20,47.06 626.86,47.03 627.52,47.01 C628.18,46.99 628.84,46.97 629.51,46.95 C630.17,46.93 630.83,46.90 631.49,46.88 C632.16,46.86 632.82,46.84 633.48,46.82 C634.14,46.80 634.80,46.78 635.47,46.76 C636.13,46.73 636.79,46.71 637.45,46.69 C638.12,46.67 638.78,46.65 639.44,46.63 C640.10,46.61 640.76,46.59 641.43,46.57 C642.09,46.55 642.75,46.53 643.41,46.51 C644.08,46.49 644.74,46.47 645.40,46.45 C646.06,46.43 646.72,46.41 647.39,46.39 C648.05,46.37 648.71,46.35 649.37,46.33 C650.04,46.31 650.70,46.29 651.36,46.27 C652.02,46.25 652.68,46.23 653.35,46.21 C654.01,46.19 654.67,46.17 655.33,46.15 C656.00,46.13 656.66,46.11 657.32,46.09 C657.98,46.08 658.64,46.06 659.31,46.04 C659.97,46.02 660.63,46.00 661.29,45.98 C661.96,45.96 662.62,45.95 663.28,45.93 C663.94,45.91 664.60,45.89 665.27,45.87 C665.93,45.86 666.59,45.84 667.25,45.82 C667.92,45.80 668.58,45.79 669.24,45.77 C669.90,45.75 670.56,45.74 671.23,45.72 C671.89,45.70 672.55,45.69 673.21,45.67 C673.88,45.65 674.54,45.64 675.20,45.62" fill="none" stroke="#000" stroke-width="1.15" stroke-dasharray="4.1 4.2" stroke-dashoffset="4.878"/>
<path d="M410.50,173.12 C411.13,172.26 411.76,171.17 412.38,169.95 C413.01,168.73 413.64,167.37 414.27,165.95 C414.89,164.53 415.52,163.05 416.15,161.58 C416.78,160.11 417.41,158.66 418.03,157.29 C418.66,155.93 419.29,154.65 419.92,153.54 C420.54,152.43 421.17,151.50 421.80,150.73" fill="none" stroke="#000" stroke-width="1.15" stroke-dasharray="4.1 4.2" stroke-dashoffset="0"/>
<path d="M421.80,150.73 C422.44,149.95 423.07,149.35 423.71,148.90 C424.35,148.45 424.99,148.17 425.62,148.02 C426.26,147.88 426.90,147.89 427.53,148.02 C428.17,148.16 428.81,148.44 429.44,148.83 C430.08,149.21 430.72,149.69 431.36,150.17 C431.99,150.64 432.63,151.11 433.27,151.46 C433.90,151.82 434.54,152.06 435.18,152.09 C435.81,152.13 436.45,151.94 437.09,151.44 C437.73,150.94 438.36,150.13 439.00,148.89" fill="none" stroke="#000" stroke-width="1.15" stroke-linejoin="round"/>
<path d="M439.00,148.89 C439.66,147.61 440.32,145.89 440.98,143.93 C441.65,141.98 442.31,139.78 442.97,137.56 C443.63,135.33 444.29,133.10 444.95,130.79 C445.62,128.48 446.28,126.05 446.94,123.58 C447.60,121.10 448.26,118.60 448.92,116.26 C449.59,113.92 450.25,111.80 450.91,109.66 C451.57,107.53 452.23,105.26 452.89,103.09 C453.56,100.91 454.22,98.99 454.88,97.66 C455.54,96.33 456.20,95.40 456.86,94.46 C457.53,93.52 458.19,92.65 458.85,91.84 C459.51,91.04 460.17,90.30 460.83,89.61 C461.50,88.93 462.16,88.31 462.82,87.74 C463.48,87.17 464.14,86.65 464.80,86.19 C465.46,85.72 466.13,85.30 466.79,84.92 C467.45,84.55 468.11,84.22 468.77,83.92 C469.43,83.62 470.10,83.37 470.76,83.14 C471.42,82.91 472.08,82.72 472.74,82.55 C473.40,82.38 474.07,82.24 474.73,82.12 C475.39,82.00 476.05,81.90 476.71,81.82 C477.37,81.74 478.04,81.67 478.70,81.61 C479.36,81.55 480.02,81.51 480.68,81.46 C481.34,81.42 482.01,81.38 482.67,81.35 C483.33,81.31 483.99,81.27 484.65,81.23 C485.31,81.20 485.98,81.16 486.64,81.12 C487.30,81.09 487.96,81.05 488.62,81.01 C489.28,80.98 489.95,80.94 490.61,80.90 C491.27,80.87 491.93,80.83 492.59,80.80 C493.25,80.76 493.91,80.73 494.58,80.70 C495.24,80.66 495.90,80.63 496.56,80.59 C497.22,80.56 497.88,80.53 498.55,80.49 C499.21,80.46 499.87,80.43 500.53,80.39 C501.19,80.36 501.85,80.33 502.52,80.30 C503.18,80.27 503.84,80.23 504.50,80.20 C505.16,80.17 505.82,80.14 506.49,80.11 C507.15,80.08 507.81,80.05 508.47,80.02 C509.13,79.99 509.79,79.96 510.46,79.93 C511.12,79.90 511.78,79.87 512.44,79.84 C513.10,79.81 513.76,79.78 514.43,79.75 C515.09,79.72 515.75,79.69 516.41,79.67 C517.07,79.64 517.73,79.61 518.39,79.58 C519.06,79.55 519.72,79.53 520.38,79.50 C521.04,79.47 521.70,79.45 522.36,79.42 C523.03,79.39 523.69,79.37 524.35,79.34 C525.01,79.31 525.67,79.29 526.33,79.26 C527.00,79.24 527.66,79.21 528.32,79.18 C528.98,79.16 529.64,79.13 530.30,79.11 C530.97,79.08 531.63,79.06 532.29,79.03 C532.95,79.01 533.61,78.99 534.27,78.96 C534.94,78.94 535.60,78.91 536.26,78.89 C536.92,78.87 537.58,78.84 538.24,78.82 C538.91,78.80 539.57,78.77 540.23,78.75 C540.89,78.73 541.55,78.71 542.21,78.68 C542.88,78.66 543.54,78.64 544.20,78.62 C544.86,78.59 545.52,78.57 546.18,78.55 C546.84,78.53 547.51,78.51 548.17,78.49 C548.83,78.46 549.49,78.44 550.15,78.42 C550.81,78.40 551.48,78.38 552.14,78.36 C552.80,78.34 553.46,78.32 554.12,78.30 C554.78,78.28 555.45,78.26 556.11,78.24 C556.77,78.22 557.43,78.20 558.09,78.18 C558.75,78.16 559.42,78.14 560.08,78.12 C560.74,78.10 561.40,78.08 562.06,78.06 C562.72,78.04 563.39,78.02 564.05,78.00 C564.71,77.98 565.37,77.97 566.03,77.95 C566.69,77.93 567.36,77.91 568.02,77.89 C568.68,77.87 569.34,77.85 570.00,77.84 C570.66,77.82 571.32,77.80 571.99,77.78 C572.65,77.77 573.31,77.75 573.97,77.73 C574.63,77.71 575.29,77.69 575.96,77.68 C576.62,77.66 577.28,77.64 577.94,77.63 C578.60,77.61 579.26,77.59 579.93,77.57 C580.59,77.56 581.25,77.54 581.91,77.52 C582.57,77.51 583.23,77.49 583.90,77.47 C584.56,77.46 585.22,77.44 585.88,77.42 C586.54,77.41 587.20,77.39 587.87,77.38 C588.53,77.36 589.19,77.34 589.85,77.33 C590.51,77.31 591.17,77.29 591.84,77.28 C592.50,77.26 593.16,77.25 593.82,77.23 C594.48,77.22 595.14,77.20 595.81,77.18 C596.47,77.17 597.13,77.15 597.79,77.14 C598.45,77.12 599.11,77.11 599.77,77.09 C600.44,77.08 601.10,77.06 601.76,77.04 C602.42,77.03 603.08,77.01 603.74,77.00 C604.41,76.98 605.07,76.97 605.73,76.95 C606.39,76.94 607.05,76.92 607.71,76.91 C608.38,76.89 609.04,76.88 609.70,76.86 C610.36,76.85 611.02,76.83 611.68,76.82 C612.35,76.80 613.01,76.79 613.67,76.77 C614.33,76.76 614.99,76.74 615.65,76.73 C616.32,76.71 616.98,76.70 617.64,76.68 C618.30,76.67 618.96,76.65 619.62,76.64 C620.29,76.62 620.95,76.61 621.61,76.59 C622.27,76.58 622.93,76.57 623.59,76.55 C624.25,76.54 624.92,76.52 625.58,76.51 C626.24,76.49 626.90,76.48 627.56,76.46 C628.22,76.45 628.89,76.43 629.55,76.42 C630.21,76.40 630.87,76.39 631.53,76.37 C632.19,76.36 632.86,76.34 633.52,76.33 C634.18,76.31 634.84,76.30 635.50,76.28 C636.16,76.27 636.83,76.25 637.49,76.24 C638.15,76.22 638.81,76.21 639.47,76.19 C640.13,76.18 640.80,76.16 641.46,76.15 C642.12,76.13 642.78,76.12 643.44,76.10 C644.10,76.09 644.77,76.07 645.43,76.05 C646.09,76.04 646.75,76.02 647.41,76.01 C648.07,75.99 648.74,75.98 649.40,75.96 C650.06,75.95 650.72,75.93 651.38,75.91 C652.04,75.90 652.70,75.88 653.37,75.87 C654.03,75.85 654.69,75.83 655.35,75.82 C656.01,75.80 656.67,75.79 657.34,75.77 C658.00,75.75 658.66,75.74 659.32,75.72 C659.98,75.70 660.64,75.69 661.31,75.67 C661.97,75.66 662.63,75.64 663.29,75.62 C663.95,75.60 664.61,75.59 665.28,75.57 C665.94,75.55 666.60,75.54 667.26,75.52 C667.92,75.50 668.58,75.49 669.25,75.47 C669.91,75.45 670.57,75.43 671.23,75.42 C671.89,75.40 672.55,75.38 673.22,75.36 C673.88,75.34 674.54,75.33 675.20,75.31" fill="none" stroke="#000" stroke-width="1.15" stroke-dasharray="4.1 4.2" stroke-dashoffset="7.021"/>
<line x1="405.9" y1="94.6" x2="675.4" y2="94.6" stroke="#d08b7c" stroke-width="1.2"/>
<text x="350.0" y="240.4" font-size="8.3" font-weight="bold">No. of Patients</text>
<text x="350.0" y="255.5" font-size="8.3" font-weight="bold">No. of Events</text>
<text x="432.40" y="241.3" text-anchor="middle" font-size="8.5">2366</text>
<text x="432.40" y="256.0" text-anchor="middle" font-size="8.5">14</text>
<text x="486.40" y="241.3" text-anchor="middle" font-size="8.5">1089</text>
<text x="486.40" y="256.0" text-anchor="middle" font-size="8.5">18</text>
<text x="540.40" y="241.3" text-anchor="middle" font-size="8.5">345</text>
<text x="540.40" y="256.0" text-anchor="middle" font-size="8.5">7</text>
<text x="594.40" y="241.3" text-anchor="middle" font-size="8.5">149</text>
<text x="594.40" y="256.0" text-anchor="middle" font-size="8.5">5</text>
<text x="648.40" y="241.3" text-anchor="middle" font-size="8.5">283</text>
<text x="648.40" y="256.0" text-anchor="middle" font-size="8.5">17</text>
</g>
</svg>
</body></html>
